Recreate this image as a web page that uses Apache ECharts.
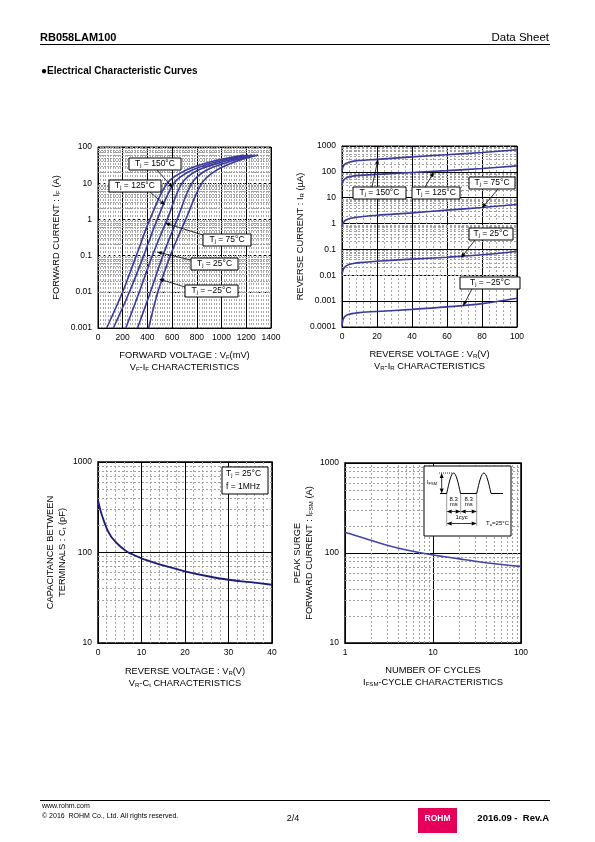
<!DOCTYPE html>
<html><head><meta charset="utf-8">
<script src="https://cdn.jsdelivr.net/npm/echarts@6/dist/echarts.min.js"></script>
<style>html,body{margin:0;padding:0;background:#fff;}#c{width:595px;height:842px;}</style>
</head><body><div id="c"></div>
<script>
// ---------- DATA ----------
// VF-IF (mV, A)
const VF_T150 = [[70,0.001],[200,0.01],[310,0.1],[420,1],[560,10],[700,22],[900,38],[1180,60]];
const VF_T125 = [[125,0.001],[255,0.01],[370,0.1],[480,1],[615,10],[750,22],[950,38],[1215,60]];
const VF_T75  = [[225,0.001],[335,0.01],[440,0.1],[560,1],[680,10],[800,22],[1000,38],[1245,60]];
const VF_T25  = [[320,0.001],[425,0.01],[525,0.1],[640,1],[760,10],[870,22],[1050,38],[1270,60]];
const VF_TM25 = [[410,0.001],[485,0.01],[585,0.1],[710,1],[840,10],[950,22],[1100,38],[1295,60]];
const VF_TICKS = [0,200,400,600,800,1000,1200,1400];
const IF_TICKS = [0.001,0.01,0.1,1,10,100];

// VR-IR (V, uA)
const VR = [0,0.5,1,2,4,7,10,20,40,60,80,100];
const IR_T150 = [110,150,175,205,235,260,275,305,380,460,560,720];
const IR_T125 = [30,42,48,56,64,70,73,80,95,112,135,170];
const IR_T75  = [0.75,1.0,1.15,1.35,1.55,1.7,1.8,2.1,2.6,3.3,4.2,5.5];
const IR_T25  = [0.011,0.015,0.018,0.022,0.026,0.029,0.031,0.035,0.042,0.05,0.062,0.085];
const IR_TM25 = [0.00011,0.00018,0.00022,0.00027,0.00031,0.00034,0.00036,0.0004,0.00048,0.0006,0.0008,0.0013];
const VR_TICKS = [0,20,40,60,80,100];
const IR_TICKS = [0.0001,0.001,0.01,0.1,1,10,100,1000];

// VR-Ct (V, pF)
const VR_CT = [0,0.5,1,2,3,4,5,6,7,8,10,12,15,20,25,30,35,40];
const CT    = [380,300,250,185,150,132,118,108,100,95,86,80,72,62,55,50,47,44];
const VRC_TICKS = [0,10,20,30,40];
const CT_TICKS = [10,100,1000];

// IFSM-cycles
const CYCLES = [1,2,3,5,10,20,30,50,100];
const IFSM   = [170,138,122,108,95,86,81,76,71];
const CYC_TICKS = [1,10,100];
const IFSM_TICKS = [10,100,1000];

// ---------- HELPERS ----------
const FONT = '"Liberation Sans", Arial, Helvetica, sans-serif';
const CURVE = '#3a3a9e';
function logMinors(lo, hi){ // values 2..9 x 10^e between lo and hi
  const out=[];
  for(let e=Math.round(Math.log10(lo)); e<Math.round(Math.log10(hi)); e++)
    for(let k=2;k<=9;k++) out.push(Number((k*Math.pow(10,e)).toPrecision(3)));
  return out;
}
function fmt(v){ return String(Number(Number(v).toPrecision(6))); }
const RICH = (fs)=>({
  n:{fontSize:fs,fontFamily:FONT,color:'#000',lineHeight:fs+3},
  s:{fontSize:fs*0.65,fontFamily:FONT,color:'#000',lineHeight:fs*0.65,padding:[fs*0.55,0,0,0],verticalAlign:'top'}
});
function gridSeries(i,h,v,dash){
  return {type:'line',xAxisIndex:i,yAxisIndex:i,data:[],silent:true,z:1,
    markLine:{silent:true,symbol:['none','none'],label:{show:false},animation:false,
      lineStyle:{color:'#a0a0a0',width:1,type:dash||[2,2]},emphasis:{disabled:true},
      data:[...h.map(x=>({yAxis:x})),...v.map(x=>({xAxis:x}))]}};
}
function curve(i,data,color,w){
  return {type:'line',xAxisIndex:i,yAxisIndex:i,data:data,showSymbol:false,smooth:0.35,
    lineStyle:{color:color||CURVE,width:w||1.6},z:5,silent:true,animation:false};
}
function box(x,y,w,h,text,opts){
  opts=opts||{};
  return [{type:'rect',z:100,shape:{x,y,width:w,height:h},style:{fill:'#fff',stroke:'#000',lineWidth:1}},
    {type:'text',z:101,x:opts.left?x+4:x+w/2,y:y+h/2,style:{text,rich:RICH(opts.fs||8.5),
      align:opts.left?'left':'center',verticalAlign:'middle',textAlign:opts.left?'left':'center',textVerticalAlign:'middle'}}];
}
function arrow(x1,y1,x2,y2){
  const a=Math.atan2(y2-y1,x2-x1),hl=5,hw=2;
  const hx=x2-hl*Math.cos(a),hy=y2-hl*Math.sin(a);
  const px=-Math.sin(a)*hw,py=Math.cos(a)*hw;
  return [{type:'line',z:100,shape:{x1,y1,x2:hx,y2:hy},style:{stroke:'#000',lineWidth:0.8}},
    {type:'polygon',z:100,shape:{points:[[x2,y2],[hx+px,hy+py],[hx-px,hy-py]]},style:{fill:'#000'}}];
}
function dblArrow(x1,y,x2){ return [...arrow((x1+x2)/2,y,x1,y),...arrow((x1+x2)/2,y,x2,y)]; }
function txt(x,y,text,fs,opts){
  opts=opts||{};
  return {type:'text',z:100,x,y,style:{text,fontSize:fs,fontFamily:FONT,fontWeight:opts.bold?'bold':'normal',
    fill:opts.color||'#000',align:opts.align||'left',textAlign:opts.align||'left',verticalAlign:'middle',textVerticalAlign:'middle',rich:opts.rich}};
}
const TL = 8.5; // tick label font
function xAxisLin(i,ticks,minorSplit,name,gap){
  return {type:'value',gridIndex:i,min:ticks[0],max:ticks[ticks.length-1],interval:ticks[1]-ticks[0],
    axisLine:{show:true,lineStyle:{color:'#000',width:1}},axisTick:{show:false},
    axisLabel:{fontSize:TL,fontFamily:FONT,color:'#000',margin:5,formatter:fmt},
    splitLine:{show:true,lineStyle:{color:'#000',width:1}},
    minorTick:{show:false,splitNumber:minorSplit},
    minorSplitLine:{show:true,lineStyle:{color:'#a8a8a8',width:1,type:[2,2]}},
    name,nameLocation:'middle',nameGap:gap,nameTextStyle:{rich:RICH(9.3),fontFamily:FONT,fontSize:9.3,color:'#000'}};
}
function axisLog(type,i,ticks,splitDash,name,gap){
  return {type:'log',logBase:10,gridIndex:i,min:ticks[0],max:ticks[ticks.length-1],interval:1,
    axisLine:{show:true,lineStyle:{color:'#000',width:1}},axisTick:{show:false},
    axisLabel:{fontSize:TL,fontFamily:FONT,color:'#000',margin:type==='y'?6:5,formatter:fmt},
    splitLine:{show:true,lineStyle:{color:'#000',width:1,type:splitDash||'solid'}},
    name,nameLocation:'middle',nameGap:gap,nameRotate:type==='y'?90:0,
    nameTextStyle:{rich:RICH(9.3),fontFamily:FONT,fontSize:9.3,color:'#000'}};
}

// ---------- OPTION ----------
const grids=[
  {left:98,top:147,width:173,height:181},
  {left:342,top:146,width:175,height:181},
  {left:98,top:462,width:174,height:181},
  {left:345,top:463,width:176,height:180}
].map((g,i)=>Object.assign(g,{show:true,borderColor:'#000',borderWidth:i>1?1.5:1,backgroundColor:'transparent',containLabel:false}));

const xAxes=[
  xAxisLin(0,VF_TICKS,10,'{n|FORWARD VOLTAGE : V}{s|F}{n|(mV)}\n{n|V}{s|F}{n|-I}{s|F}{n| CHARACTERISTICS}',21),
  xAxisLin(1,VR_TICKS,5,'{n|REVERSE VOLTAGE : V}{s|R}{n|(V)}\n{n|V}{s|R}{n|-I}{s|R}{n| CHARACTERISTICS}',21),
  xAxisLin(2,VRC_TICKS,5,'{n|REVERSE VOLTAGE : V}{s|R}{n|(V)}\n{n|V}{s|R}{n|-C}{s|t}{n| CHARACTERISTICS}',22),
  axisLog('x',3,CYC_TICKS,'solid','{n|NUMBER OF CYCLES}\n{n|I}{s|FSM}{n|-CYCLE CHARACTERISTICS}',21)
];
const yAxes=[
  axisLog('y',0,IF_TICKS,[3,2],'{n|FORWARD CURRENT : I}{s|F}{n| (A)}',35),
  axisLog('y',1,IR_TICKS,'solid','{n|REVERSE CURRENT : I}{s|R}{n| (µA)}',35),
  axisLog('y',2,CT_TICKS,'solid','{n|CAPACITANCE BETWEEN}\n{n|TERMINALS : C}{s|t}{n| (pF)}',29),
  axisLog('y',3,IFSM_TICKS,'solid','{n|PEAK SURGE}\n{n|FORWARD CURRENT : I}{s|FSM}{n| (A)}',29)
];

const series=[
  gridSeries(0,logMinors(0.001,100),[],[2,1]),
  gridSeries(1,logMinors(0.0001,1000),[],[2,2]),
  gridSeries(2,logMinors(10,1000),[],[2,2]),
  gridSeries(3,logMinors(10,1000),logMinors(1,100),[2,2]),
  curve(0,VF_T150),curve(0,VF_T125),curve(0,VF_T75),curve(0,VF_T25),curve(0,VF_TM25),
  curve(1,VR.map((v,k)=>[v,IR_T150[k]])),curve(1,VR.map((v,k)=>[v,IR_T125[k]])),
  curve(1,VR.map((v,k)=>[v,IR_T75[k]])),curve(1,VR.map((v,k)=>[v,IR_T25[k]])),
  curve(1,VR.map((v,k)=>[v,IR_TM25[k]])),
  curve(2,VR_CT.map((v,k)=>[v,CT[k]]),'#1c1c78',1.8),
  curve(3,CYCLES.map((v,k)=>[v,IFSM[k]]),'#4444a8',1.6)
];

// ---------- DECORATION / ANNOTATIONS ----------
const tj=(t)=>'{n|T}{s|j}{n| = '+t+'}';
const g=[];
// header
g.push(txt(40,38,'RB058LAM100',11,{bold:true}));
g.push(txt(549,38,'Data Sheet',11.5,{align:'right'}));
g.push({type:'line',shape:{x1:40,y1:44.5,x2:550,y2:44.5},style:{stroke:'#000',lineWidth:1}});
g.push(txt(41,71,'●Electrical Characteristic Curves',10,{bold:true}));
// footer
g.push({type:'line',shape:{x1:40,y1:800.5,x2:550,y2:800.5},style:{stroke:'#000',lineWidth:1}});
g.push(txt(42,806,'www.rohm.com',7));
g.push(txt(42,816,'© 2016  ROHM Co., Ltd. All rights reserved.',7));
g.push(txt(293,819,'2/4',9,{align:'center'}));
g.push({type:'rect',shape:{x:418,y:808,width:39,height:25},style:{fill:'#e5005a'}});
g.push(txt(437.5,819,'ROHM',8.5,{bold:true,align:'center',color:'#fff'}));
g.push(txt(549,818,'2016.09 -  Rev.A',9.5,{bold:true,align:'right'}));
// chart 1 labels
g.push(...box(129,158,52,12,tj('150°C')),...arrow(157,170,173,188));
g.push(...box(109,180,52,12,tj('125°C')),...arrow(150,192,165,205));
g.push(...box(203,234,48,12,tj('75°C')),...arrow(203,235,165,223));
g.push(...box(191,258,47,12,tj('25°C')),...arrow(191,260,157,252));
g.push(...box(185,285,53,12,tj('−25°C')),...arrow(185,287,159,279));
// chart 2 labels
g.push(...box(353,187,53,12,tj('150°C')),...arrow(372,187,378,159));
g.push(...box(412,187,48,12,tj('125°C')),...arrow(425,187,434,172));
g.push(...box(469,177,46,12,tj('75°C')),...arrow(498,189,482,208));
g.push(...box(469,228,44,12,tj('25°C')),...arrow(475,240,461,258));
g.push(...box(460,277,60,12,tj('−25°C')),...arrow(472,289,463,306));
// chart 3 legend
g.push({type:'rect',z:100,shape:{x:222,y:467,width:46,height:27},style:{fill:'#fff',stroke:'#000',lineWidth:1}});
g.push(txt(226,474,'',8.5,{rich:RICH(8.5)}));
g[g.length-1].style.text=tj('25°C');
g.push(txt(226,487,'f = 1MHz',8.5));
// chart 4 inset
g.push({type:'rect',z:100,shape:{x:424,y:466,width:87,height:70},style:{fill:'#fff',stroke:'#000',lineWidth:1}});
const hump=(x0,x1,yb,yt)=>{const p=[];for(let k=0;k<=16;k++){const t=k/16;p.push([x0+(x1-x0)*t,yb-(yb-yt)*Math.sin(Math.PI*t)]);}return p;};
const yb=493.5, yt=473;
g.push({type:'polyline',z:101,shape:{points:[[440,yb],[446.7,yb],...hump(446.7,460.5,yb,yt),[476.7,yb],...hump(476.7,491,yb,yt),[503,yb]]},style:{stroke:'#000',fill:null,lineWidth:1}});
const dot={stroke:'#000',lineWidth:0.8,lineDash:[1,1]};
g.push({type:'line',z:101,shape:{x1:439,y1:yt,x2:452,y2:yt},style:dot});
g.push({type:'line',z:101,shape:{x1:446.7,y1:yb,x2:446.7,y2:526},style:dot});
g.push({type:'line',z:101,shape:{x1:460.7,y1:yb,x2:460.7,y2:514},style:dot});
g.push({type:'line',z:101,shape:{x1:476.7,y1:yb,x2:476.7,y2:526},style:dot});
g.push(...arrow(441.7,483,441.7,yt),...arrow(441.7,483,441.7,yb));
g.push(txt(432,482.5,'I',5.5,{align:'center'}));
g[g.length-1].style.text='{a|I}{b|FSM}';
g[g.length-1].style.rich={a:{fontSize:5.5,fontFamily:FONT},b:{fontSize:4,fontFamily:FONT,padding:[2,0,0,0],verticalAlign:'top'}};
g.push(txt(453.7,499.5,'8.3',6,{align:'center'}),txt(453.7,504.5,'ms',6,{align:'center'}));
g.push(txt(468.7,499.5,'8.3',6,{align:'center'}),txt(468.7,504.5,'ms',6,{align:'center'}));
g.push(...dblArrow(446.7,511.5,460.7),...dblArrow(460.7,511.5,476.7));
g.push(txt(461.7,517,'1cyc',6,{align:'center'}));
g.push(...dblArrow(446.7,523.5,476.7));
const ta=txt(509,523.5,'',6,{align:'right'});
ta.style.text='{a|T}{b|a}{a|=25°C}';
ta.style.rich={a:{fontSize:6,fontFamily:FONT},b:{fontSize:4.2,fontFamily:FONT,padding:[2.5,0,0,0],verticalAlign:'top'}};
g.push(ta);

const chart=echarts.init(document.getElementById('c'),null,{renderer:'canvas',width:595,height:842});
chart.setOption({backgroundColor:'#fff',animation:false,textStyle:{fontFamily:FONT},
  grid:grids,xAxis:xAxes,yAxis:yAxes,series,graphic:{elements:g}});
</script></body></html>
